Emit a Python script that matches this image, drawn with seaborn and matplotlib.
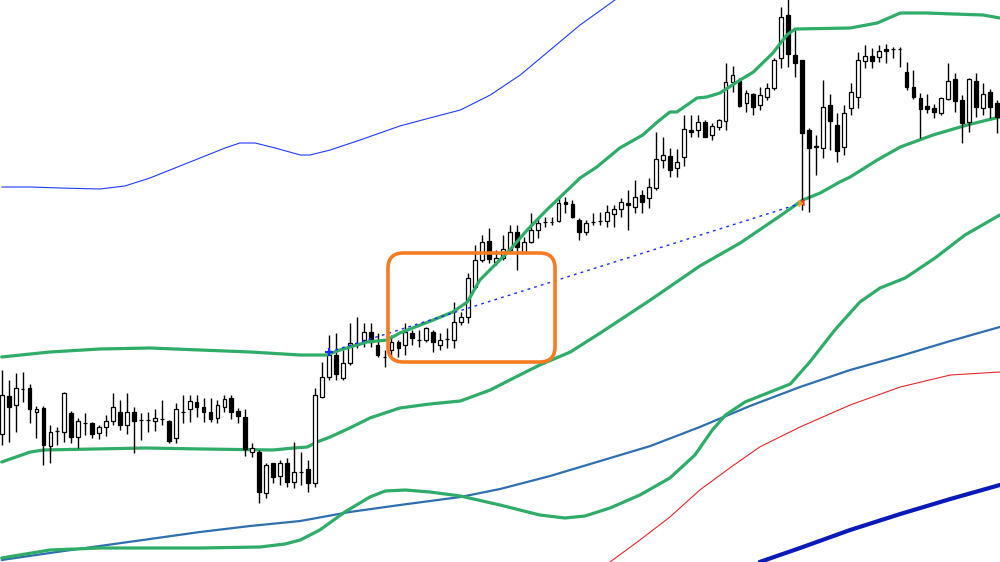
import numpy as np
import pandas as pd
import matplotlib
matplotlib.use("Agg")
import matplotlib.pyplot as plt
from matplotlib.patches import FancyBboxPatch
import seaborn as sns

# ---- candle data (price units; higher = up) ----
opens = [128, 166, 157, 173, 174, 150, 154, 116, 131, 130, 149, 125, 139, 139, 129, 135, 141, 150, 137, 150,
         142, 142, 141, 143, 141, 124, 150, 153, 160, 155, 150, 144, 155, 164, 151, 145, 110, 110, 69, 99,
         86, 99, 80, 90, 93, 79, 165, 185, 207, 184, 199, 217, 222, 230, 217, 205, 212, 220, 217, 229,
         222, 222, 230, 217, 223, 222, 240, 245, 275, 302, 321, 300, 304, 312, 330, 310, 320, 332, 340, 340,
         341, 360, 358, 342, 330, 340, 341, 341, 348, 353, 359, 355, 367, 364, 374, 402, 406, 394, 405, 432,
         432, 440, 427, 435, 441, 480, 481, 459, 468, 457, 465, 474, 504, 547, 507, 502, 432, 415, 414, 457,
         437, 415, 454, 465, 501, 506, 505, 513, 513, 513, 490, 475, 464, 456, 454, 449, 463, 483, 462, 440,
         481, 454, 470, 459]
highs = [192, 182, 189, 190, 178, 156, 156, 137, 135, 170, 151, 144, 149, 140, 137, 147, 169, 162, 169, 155,
         149, 150, 153, 162, 142, 159, 167, 167, 167, 164, 164, 162, 167, 167, 154, 153, 119, 112, 99, 99,
         102, 104, 120, 110, 102, 174, 200, 227, 229, 212, 239, 245, 239, 239, 229, 212, 227, 222, 239, 232,
         232, 235, 232, 229, 234, 260, 250, 289, 317, 327, 334, 312, 327, 337, 337, 325, 349, 345, 345, 345,
         364, 365, 362, 344, 342, 349, 350, 357, 357, 364, 372, 382, 372, 384, 430, 425, 414, 413, 447, 447,
         447, 442, 439, 443, 499, 496, 484, 472, 469, 475, 479, 504, 555, 565, 534, 502, 434, 427, 482, 468,
         449, 457, 479, 510, 517, 514, 517, 518, 515, 515, 500, 492, 469, 468, 458, 465, 499, 489, 467, 484,
         489, 479, 473, 462]
lows = [117, 120, 130, 160, 139, 124, 97, 99, 117, 120, 119, 114, 127, 124, 123, 126, 137, 132, 128, 109,
        122, 130, 131, 137, 119, 119, 139, 140, 145, 140, 140, 139, 150, 143, 139, 106, 105, 59, 64, 79,
        77, 75, 74, 77, 70, 75, 164, 182, 182, 182, 197, 214, 215, 215, 205, 195, 205, 205, 207, 217,
        215, 220, 210, 212, 214, 214, 237, 239, 274, 300, 299, 297, 302, 310, 292, 309, 319, 324, 335, 337,
        340, 349, 344, 322, 327, 337, 337, 335, 335, 345, 332, 349, 349, 354, 372, 394, 385, 385, 396, 425,
        425, 425, 422, 432, 432, 470, 455, 450, 447, 452, 462, 472, 494, 495, 485, 352, 350, 387, 404, 412,
        400, 407, 447, 454, 494, 494, 500, 499, 504, 495, 472, 463, 424, 449, 444, 447, 462, 450, 419, 430,
        445, 447, 444, 429]
closes = [167, 155, 174, 173, 153, 153, 117, 130, 131, 169, 125, 141, 139, 128, 135, 141, 155, 137, 150, 141,
          142, 142, 144, 143, 121, 153, 150, 161, 155, 150, 143, 157, 163, 150, 146, 113, 114, 70, 97, 85,
          99, 80, 90, 90, 79, 167, 185, 207, 188, 199, 219, 219, 230, 220, 207, 205, 220, 214, 230, 224,
          222, 234, 220, 222, 223, 240, 245, 284, 302, 320, 303, 304, 313, 330, 315, 320, 332, 339, 340, 340,
          359, 358, 345, 330, 339, 340, 341, 350, 353, 360, 357, 365, 360, 375, 403, 407, 392, 400, 433, 430,
          440, 425, 436, 442, 480, 487, 456, 469, 455, 467, 474, 502, 545, 508, 499, 429, 414, 416, 455, 441,
          411, 449, 470, 502, 506, 501, 511, 511, 513, 513, 475, 465, 453, 453, 450, 464, 481, 461, 439, 483,
          455, 468, 455, 445]

# ---- indicator lines: (bar index, price) ----
blue_x = [0, 4.1, 8.4, 14.1, 17.7, 21.3, 24.9, 28.5, 32.1, 34.2, 36.4, 39.3, 42.9, 44.3, 47.2, 51.5,
          57.2, 61.5, 65.9, 70.2, 74.5, 78.8, 83.1, 88.1, 90.0]
blue_y = [375, 375, 374, 373, 376, 384, 394, 404, 414, 419, 419, 414, 407, 407, 412, 422,
          436, 444, 452, 467, 487, 512, 537, 562, 575]

bb_up_x = [0, 6.9, 14.1, 21.3, 28.5, 35.7, 42.9, 46.7, 48.6, 52.5, 55.4, 57.2, 62.0, 64.8, 66.9, 68.7,
           73.0, 75.5, 78.3, 83.1, 85.5, 88.8, 92.1, 94.2, 96.0, 97.0, 99.9, 101.3, 103.2, 106.1, 108.0,
           110.8, 112.8, 114.0, 121.9, 125.8, 129.1, 133.0, 136.7, 141.0, 143.4]
bb_up_y = [205, 210, 213, 214, 212, 210, 207, 207, 212, 220, 222, 229, 242, 250, 260, 282,
           312, 332, 352, 384, 395, 414, 427, 440, 450, 450, 464, 465, 469, 482, 490,
           509, 527, 533, 534, 539, 549, 549, 548, 547, 544]

bb_lo_x = [0, 4.1, 6.0, 20.6, 28.9, 39.0, 41.9, 43.9, 45.3, 47.2, 50.0, 52.9, 57.2, 61.5, 65.9, 70.2,
           73.0, 77.3, 81.7, 86.0, 93.2, 100.3, 106.1, 111.4, 115.1, 117.6, 120.4, 121.9, 125.8, 129.1,
           133.8, 138.7, 143.4]
bb_lo_y = [100, 110, 112, 114, 113, 112, 114, 115, 120, 125, 134, 144, 154, 158, 161, 172,
           182, 197, 210, 229, 262, 296, 319, 344, 362, 369, 380, 385, 402, 415,
           427, 437, 445]

bb2_x = [0, 6.9, 14.1, 28.5, 37.1, 40.7, 42.9, 45.7, 49.3, 52.9, 55.1, 58.0, 61.5, 65.9, 71.6, 77.3,
         80.9, 83.8, 87.4, 91.7, 96.0, 99.6, 102.1, 104.0, 106.8, 110.4, 113.3, 116.1, 119.7, 123.3,
         126.2, 129.8, 134.1, 138.4, 143.4]
bb2_y = [4, 12, 14, 14, 15, 18, 22, 32, 50, 65, 71, 72, 70, 66, 57, 47,
         44, 46, 54, 67, 84, 107, 132, 147, 160, 170, 178, 200, 232, 260,
         274, 284, 304, 327, 347]

ma_x = [0, 6.9, 14.1, 21.3, 28.5, 35.7, 42.9, 50.0, 57.2, 65.9, 71.6, 78.8, 86.0, 93.2, 100.3, 107.5,
        114.7, 121.9, 129.1, 136.3, 143.4]
ma_y = [2, 9, 16, 23, 30, 36, 41, 50, 57, 65, 73, 86, 101, 116, 135, 156,
        175, 192, 206, 221, 235]

red_x = [87.4, 91.7, 96.0, 100.3, 104.6, 108.9, 114.7, 121.9, 129.1, 136.3, 143.4]
red_y = [0, 22, 45, 72, 94, 115, 135, 157, 175, 187, 190]

navy_x = [108.9, 114.7, 121.9, 129.1, 136.3, 143.4]
navy_y = [0, 14, 32, 48, 63, 77]

trend_x = [47, 115]
trend_y = [210, 359]

box_x = [55.5, 79.5]
box_y = [200, 309]

# ---- drawing ----
sns.set_style("white")
fig = plt.figure(figsize=(10, 5.62), dpi=100)
ax = fig.add_axes([0, 0, 1, 1])

n = len(opens)
idx = np.arange(n)
o = np.array(opens, float)
c = np.array(closes, float)
h = np.array(highs, float)
l = np.array(lows, float)

GREEN = "#2EAC68"
lw_green = 2.3
kw = dict(sort=False, solid_joinstyle="round", solid_capstyle="round")
sns.lineplot(x=blue_x, y=blue_y, ax=ax, color="#1F3BFF", linewidth=0.8, **kw)
sns.lineplot(x=ma_x, y=ma_y, ax=ax, color="#2E6FB0", linewidth=1.6, **kw)
sns.lineplot(x=red_x, y=red_y, ax=ax, color="#E5262A", linewidth=0.8, **kw)
sns.lineplot(x=navy_x, y=navy_y, ax=ax, color="#0A1AB8", linewidth=3.0, **kw)
sns.lineplot(x=bb2_x, y=bb2_y, ax=ax, color=GREEN, linewidth=lw_green, **kw)
sns.lineplot(x=bb_lo_x, y=bb_lo_y, ax=ax, color=GREEN, linewidth=lw_green, **kw)

# candles
ax.vlines(idx, l, h, color="black", linewidth=1.0, zorder=3)
bull = c >= o
bottoms = np.minimum(o, c)
heights = np.abs(c - o)
ax.bar(idx[bull], heights[bull], bottom=bottoms[bull], width=0.55, color="white",
       edgecolor="black", linewidth=0.9, zorder=4)
ax.bar(idx[~bull], heights[~bull], bottom=bottoms[~bull], width=0.55, color="black",
       edgecolor="black", linewidth=0.9, zorder=4)

sns.lineplot(x=bb_up_x, y=bb_up_y, ax=ax, color=GREEN, linewidth=lw_green, zorder=5, **kw)

# dotted trend line
ax.plot(trend_x, trend_y, color="#1A2BFF", linewidth=1.0, linestyle=(0, (2, 3)), zorder=6)
ax.plot([trend_x[0]], [trend_y[0]], marker="+", color="#1A2BFF", markersize=6, mew=1.5, zorder=7)
ax.plot([trend_x[1] - 0.5], [trend_y[1] + 1], marker=4, color="#E8302A", markersize=5, zorder=7)
ax.plot([trend_x[1]], [trend_y[1]], marker=5, color="#F0A020", markersize=4, zorder=7)

# orange rounded box
box = FancyBboxPatch((box_x[0], box_y[0]), box_x[1] - box_x[0], box_y[1] - box_y[0],
                     boxstyle="round,pad=0,rounding_size=2.2", mutation_aspect=6.96,
                     facecolor="none", edgecolor="#F57C22", linewidth=2.6, zorder=8)
ax.add_patch(box)

ax.set_xlim(-0.244, 143.43)
ax.set_ylim(0, 562)
ax.axis("off")
fig.savefig("out.png", dpi=100)
